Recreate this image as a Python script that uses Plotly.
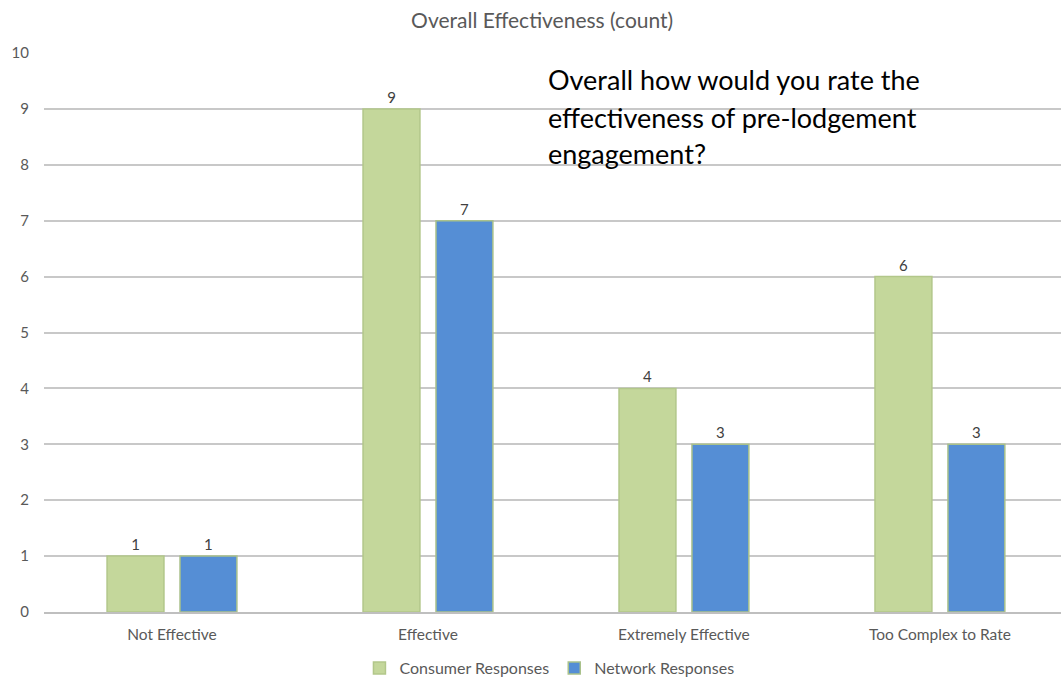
import plotly.graph_objects as go

categories = ["Not Effective", "Effective", "Extremely Effective", "Too Complex to Rate"]
consumer = [1, 9, 4, 6]
network = [1, 7, 3, 3]
y_ticks = [0, 1, 2, 3, 4, 5, 6, 7, 8, 9, 10]
question_lines = ["Overall how would you rate the",
                  "effectiveness of pre-lodgement",
                  "engagement?"]

FONT = "Lato, 'Open Sans', sans-serif"
GREY = "#595959"

fig = go.Figure()
fig.add_trace(go.Bar(
    name="Consumer Responses", x=categories, y=consumer,
    marker=dict(color="#C4D79B", line=dict(color="#B2C78A", width=1.5)),
    text=consumer, textposition="outside", cliponaxis=False,
    textfont=dict(family=FONT, size=15, color="#404040"),
))
fig.add_trace(go.Bar(
    name="Network Responses", x=categories, y=network,
    marker=dict(color="#558ED5", line=dict(color="#A9C18B", width=1.5)),
    text=network, textposition="outside", cliponaxis=False,
    textfont=dict(family=FONT, size=15, color="#404040"),
))

# question text, one line per annotation for wider line spacing
line_y = [0.9517, 0.8855, 0.8211]
annotations = [
    dict(text=t, xref="paper", yref="paper", x=0.4935, y=yy,
         xanchor="left", yanchor="middle", align="left", showarrow=False,
         font=dict(family=FONT, size=27, color="#000000"))
    for t, yy in zip(question_lines, line_y)
]

fig.update_layout(
    width=1061, height=677,
    margin=dict(l=44, r=0, t=53, b=65, autoexpand=False),
    paper_bgcolor="white", plot_bgcolor="white",
    barmode="group", bargap=0.43, bargroupgap=0.22,
    title=dict(text="Overall Effectiveness (count)", x=0.511, xanchor="center",
               y=0.97, yanchor="middle",
               font=dict(family=FONT, size=21, color=GREY)),
    font=dict(family=FONT, color=GREY),
    legend=dict(orientation="h", x=0.497, xanchor="center", y=-0.07, yanchor="top",
                font=dict(family=FONT, size=16, color=GREY),
                itemwidth=30, traceorder="normal"),
    xaxis=dict(showline=True, linecolor="#BFBFBF", linewidth=1.5,
               range=[-0.5, 3.473],
               tickfont=dict(family=FONT, size=15.5, color=GREY), ticks="",
               ticklabelstandoff=8),
    yaxis=dict(range=[0, 10], tickvals=y_ticks, showgrid=True, gridcolor="#C8C8C8",
               gridwidth=1.5, zeroline=False, ticks="",
               tickfont=dict(family=FONT, size=15, color=GREY), ticklabelstandoff=14),
    annotations=annotations,
)

fig.write_html("out.html")
